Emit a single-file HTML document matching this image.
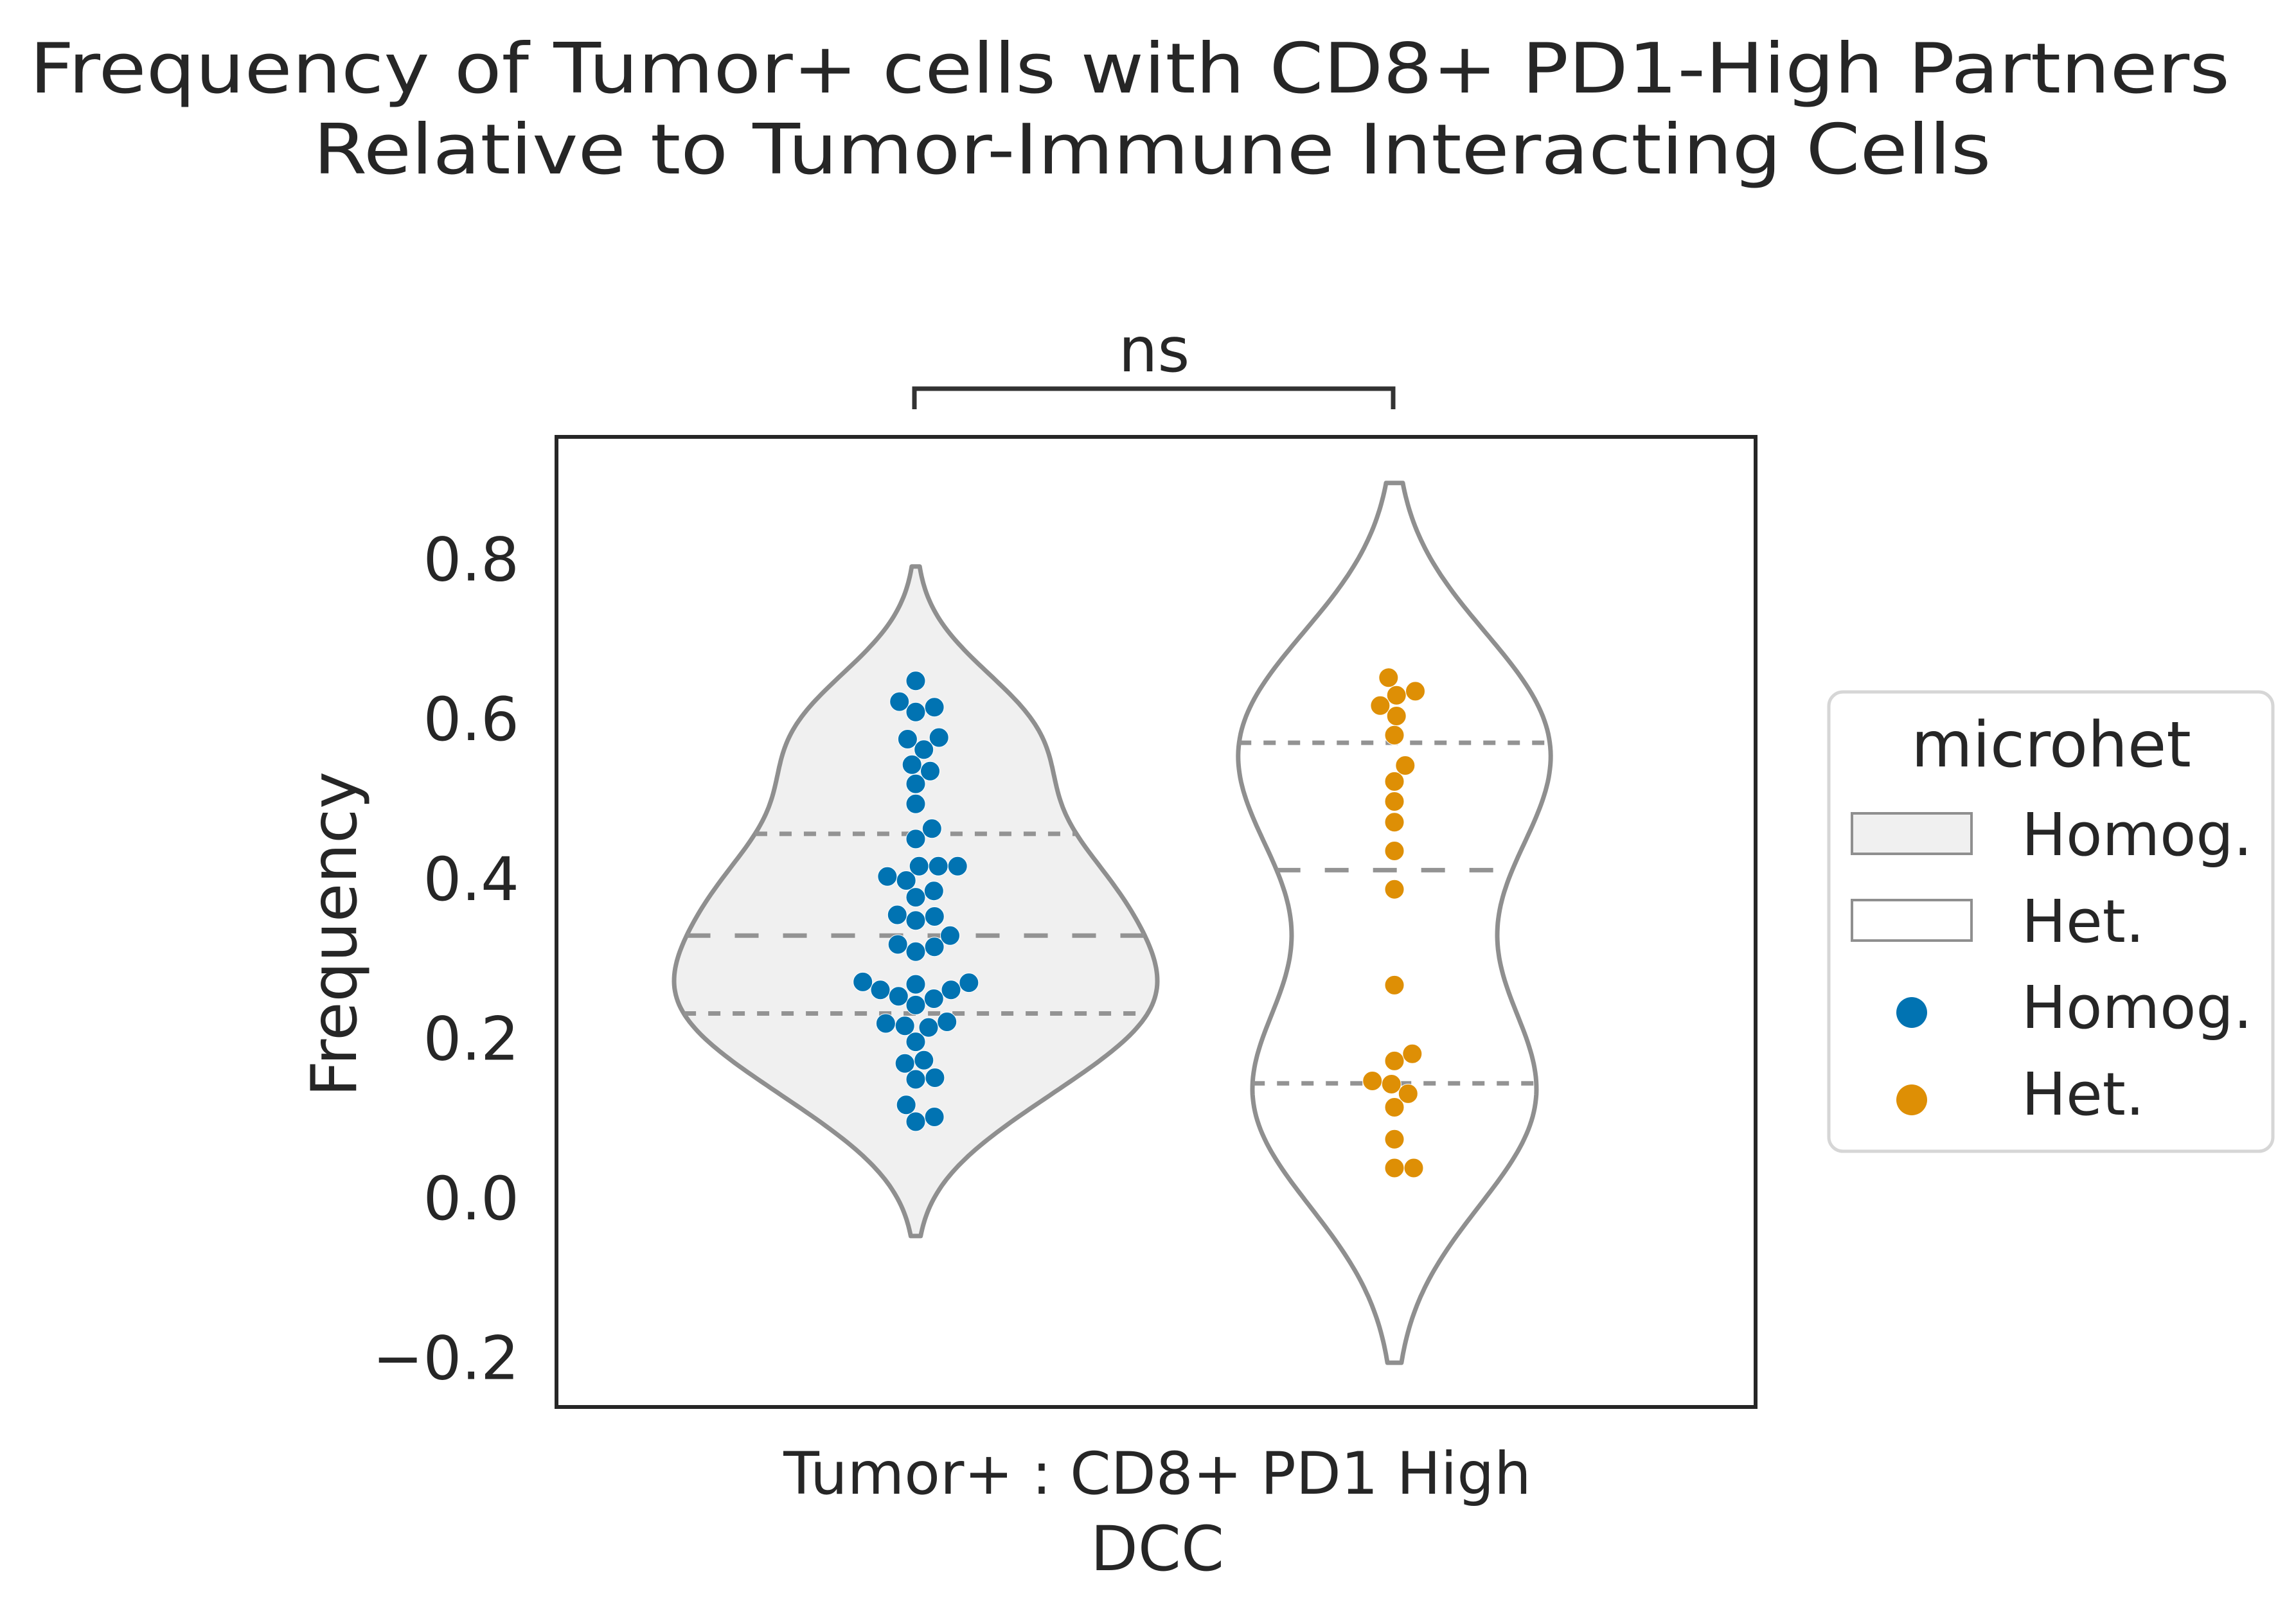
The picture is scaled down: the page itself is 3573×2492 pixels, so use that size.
<!DOCTYPE html>
<html><head><meta charset="utf-8"><style>
html,body{margin:0;padding:0;background:#fff}
svg{display:block;font-family:"DejaVu Sans","Liberation Sans",sans-serif}
</style></head><body>
<svg id="chart" width="3573" height="2492" viewBox="0 0 3573 2492" xmlns="http://www.w3.org/2000/svg">
<rect width="3573" height="2492" fill="#fff"/>
<text x="1758" y="144" font-size="108" fill="#262626" text-anchor="middle" textLength="3424" lengthAdjust="spacingAndGlyphs">Frequency of Tumor+ cells with CD8+ PD1-High Partners</text>
<text x="1793" y="270" font-size="108" fill="#262626" text-anchor="middle" textLength="2611" lengthAdjust="spacingAndGlyphs">Relative to Tumor-Immune Interacting Cells</text>
<g id="plot"></g>
<rect x="866" y="680" width="1866" height="1510" fill="none" stroke="#262626" stroke-width="6"/>
<g id="yticks"></g>
<text transform="translate(554,1454) rotate(-90)" font-size="98" fill="#262626" text-anchor="middle">Frequency</text>
<text x="1801" y="2325" font-size="91" fill="#262626" text-anchor="middle">Tumor+ : CD8+ PD1 High</text>
<text x="1801" y="2444" font-size="96" fill="#262626" text-anchor="middle">DCC</text>
<path d="M1423 637 V605 H2168 V637" fill="none" stroke="#333" stroke-width="7" stroke-linejoin="miter"/>
<text x="1796" y="578" font-size="96" fill="#262626" text-anchor="middle">ns</text>
<g>
<rect x="2846" y="1077" width="691" height="715" rx="22" fill="#fff" stroke="#d6d6d6" stroke-width="5"/>
<text x="3192" y="1193" font-size="98" fill="#262626" text-anchor="middle">microhet</text>
<rect x="2882" y="1266" width="186" height="63" fill="#f0f0f0" stroke="#8f8f8f" stroke-width="4"/>
<text x="3146" y="1331" font-size="92" fill="#262626">Homog.</text>
<rect x="2882" y="1401" width="186" height="63" fill="#fff" stroke="#8f8f8f" stroke-width="4"/>
<text x="3146" y="1466" font-size="92" fill="#262626">Het.</text>
<circle cx="2975" cy="1576" r="24" fill="#0173b2"/>
<text x="3146" y="1600" font-size="92" fill="#262626">Homog.</text>
<circle cx="2975" cy="1712" r="24" fill="#de8f05"/>
<text x="3146" y="1735" font-size="92" fill="#262626">Het.</text>
</g>
</svg>
<script>
const categories = ["Homog.", "Het."];
const homogValues = [0.647,0.614,0.608,0.621,0.576,0.574,0.561,0.542,0.534,0.518,0.493,0.462,0.449,0.415,0.415,0.397,0.402,0.415,0.384,0.376,0.352,0.347,0.354,0.328,0.314,0.308,0.317,0.269,0.260,0.249,0.267,0.252,0.260,0.270,0.241,0.220,0.213,0.215,0.218,0.195,0.172,0.168,0.150,0.148,0.116,0.101,0.095];
const hetValues = [0.651,0.629,0.634,0.616,0.603,0.579,0.541,0.521,0.496,0.470,0.434,0.386,0.266,0.180,0.171,0.142,0.146,0.130,0.113,0.073,0.037,0.037];
const yTicks = [-0.2, 0.0, 0.2, 0.4, 0.6, 0.8];
const yTickLabels = ["\u22120.2", "0.0", "0.2", "0.4", "0.6", "0.8"];

const NS = "http://www.w3.org/2000/svg";
const Y0 = 1864, YPX = 1243;
function yScale(v){ return Y0 - v*YPX; }
const xCenters = {"Homog.":1425, "Het.":2170};
function xScale(c){ return xCenters[c]; }
const colors = {"Homog.":"#0173b2", "Het.":"#de8f05"};
const fills = {"Homog.":"#f0f0f0", "Het.":"#ffffff"};
const MAXHALF = 376;

function mk(tag, attrs, parent){
  const e = document.createElementNS(NS, tag);
  for (const k in attrs) e.setAttribute(k, attrs[k]);
  parent.appendChild(e); return e;
}
function quantile(s, q){ const p=(s.length-1)*q, lo=Math.floor(p), hi=Math.ceil(p); return s[lo]+(s[hi]-s[lo])*(p-lo); }
function kdeInfo(vals){
  const n=vals.length, m=vals.reduce((a,b)=>a+b,0)/n;
  const sd=Math.sqrt(vals.reduce((a,b)=>a+(b-m)*(b-m),0)/(n-1));
  const bw=sd*Math.pow(n,-0.2);
  const lo=Math.min(...vals)-2*bw, hi=Math.max(...vals)+2*bw;
  const grid=[], dens=[];
  for(let i=0;i<=200;i++){
    const y=lo+(hi-lo)*i/200; let d=0;
    for(const v of vals){ const z=(y-v)/bw; d+=Math.exp(-0.5*z*z); }
    grid.push(y); dens.push(d/(n*bw*Math.sqrt(2*Math.PI)));
  }
  return {grid,dens};
}
const plot = document.getElementById('plot');
const seriesMap = {"Homog.":homogValues, "Het.":hetValues};
const infos = {};
let gmax = 0;
categories.forEach(c=>{ infos[c]=kdeInfo(seriesMap[c]); gmax=Math.max(gmax, ...infos[c].dens); });

categories.forEach(c=>{
  const info = infos[c], cx = xScale(c);
  const half = y => {
    const g=info.grid; if(y<g[0]||y>g[g.length-1]) return 0;
    const t=(y-g[0])/(g[g.length-1]-g[0])*(g.length-1), i=Math.min(Math.floor(t),g.length-2), f=t-i;
    return (info.dens[i]*(1-f)+info.dens[i+1]*f)/gmax*MAXHALF;
  };
  let d="";
  info.grid.forEach((y,i)=>{ d+=(i?"L":"M")+(cx+info.dens[i]/gmax*MAXHALF).toFixed(1)+" "+yScale(y).toFixed(1); });
  for(let i=info.grid.length-1;i>=0;i--) d+="L"+(cx-info.dens[i]/gmax*MAXHALF).toFixed(1)+" "+yScale(info.grid[i]).toFixed(1);
  d+="Z";
  const body = mk('path',{d:d, fill:fills[c], stroke:"#8f8f8f","stroke-width":7,"stroke-linejoin":"round"}, plot);
  
  
  const s=[...seriesMap[c]].sort((a,b)=>a-b);
  [[0.25,"19 19"],[0.5,"37 38"],[0.75,"19 19"]].forEach(([q,dash])=>{
    const v=quantile(s,q), w=half(v);
    const ln = mk('line',{x1:cx-w,x2:cx+w,y1:yScale(v),y2:yScale(v),stroke:"#939393","stroke-width":7,"stroke-dasharray":dash}, plot);
    
    
  });
});

const R=15, D=30;
categories.forEach(c=>{
  const cx=xScale(c);
  const pts=[...seriesMap[c]].map(v=>({v:v,y:yScale(v)})).sort((a,b)=>b.y-a.y);
  const placed=[];
  pts.forEach(p=>{
    const near=placed.filter(q=>Math.abs(q.y-p.y)<D);
    const cands=[0];
    near.forEach(q=>{ const dx=Math.sqrt(D*D-(q.y-p.y)*(q.y-p.y)); cands.push(q.x+dx, q.x-dx); });
    cands.sort((a,b)=>Math.abs(a)-Math.abs(b));
    let x=0;
    for(const cand of cands){
      if(near.every(q=>(q.x-cand)*(q.x-cand)+(q.y-p.y)*(q.y-p.y)>=D*D-0.5)){ x=cand; break; }
    }
    p.x=x; placed.push(p);
  });
  placed.forEach(p=>{
    const dot=mk('circle',{cx:(cx+p.x).toFixed(1),cy:p.y.toFixed(1),r:R,fill:colors[c],stroke:"#fff","stroke-width":1}, plot);
    
    
  });
});

const yt=document.getElementById('yticks');
yTicks.forEach((v,i)=>{
  const t=mk('text',{x:808,y:(yScale(v)+34).toFixed(1),"font-size":94,fill:"#262626","text-anchor":"end"}, yt);
  t.textContent=yTickLabels[i];
  
  
});
</script>
</body></html>
